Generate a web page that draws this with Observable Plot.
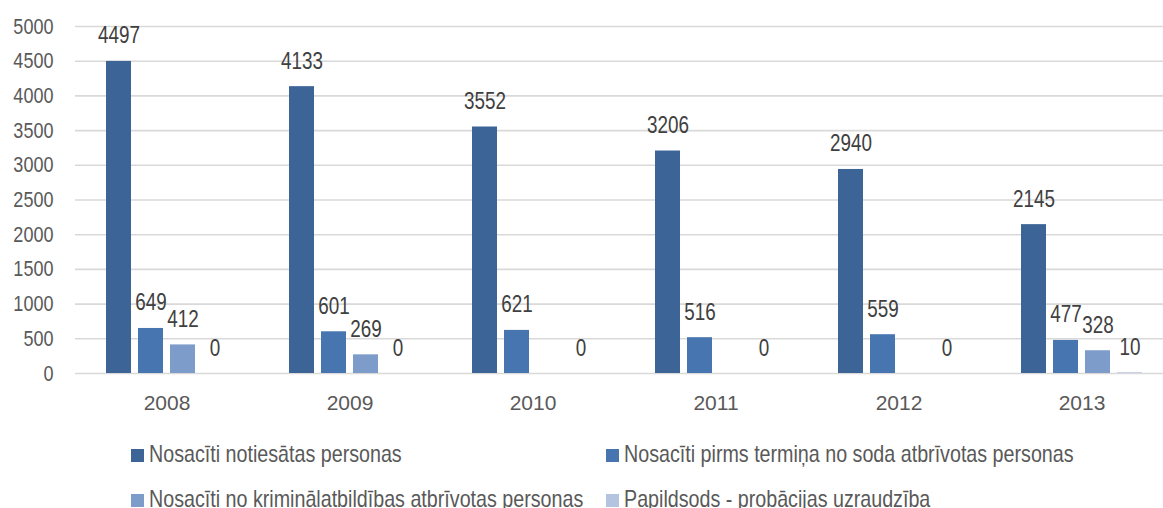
<!DOCTYPE html>
<html>
<head>
<meta charset="utf-8">
<script src="https://cdn.jsdelivr.net/npm/d3@7"></script>
<script src="https://cdn.jsdelivr.net/npm/@observablehq/plot@0.6"></script>
<style>
  html, body { margin: 0; padding: 0; background: #fff; overflow: hidden; }
  #chart svg { display: block; }
  .legend {
    display: grid;
    grid-template-columns: 475px 475px;
    padding-left: 131px;
    margin-top: 6px;
    font-family: "Liberation Sans", Arial, sans-serif;
    font-size: 24px;
    line-height: 45px;
    color: #595959;
    white-space: nowrap;
  }
  .legend .sw {
    display: inline-block;
    width: 13px; height: 13px;
    margin-right: 5px;
  }
  .legend .txt {
    display: inline-block;
    transform: scaleX(0.82);
    transform-origin: left center;
  }
</style>
</head>
<body>
<div id="chart"></div>
<div class="legend" id="legend"></div>
<script>
const years = ["2008", "2009", "2010", "2011", "2012", "2013"];
const seriesNames = [
  "Nosacīti notiesātas personas",
  "Nosacīti pirms termiņa no soda atbrīvotas personas",
  "Nosacīti no kriminālatbildības atbrīvotas personas",
  "Papildsods - probācijas uzraudzība"
];
const notiesatas = [4497, 4133, 3552, 3206, 2940, 2145];
const pirmsTermina = [649, 601, 621, 516, 559, 477];
const kriminalatbildiba = [412, 269, null, null, null, 328];
const probacija = [0, 0, 0, 0, 0, 10];
const yTicks = [0, 500, 1000, 1500, 2000, 2500, 3000, 3500, 4000, 4500, 5000];
const colors = ["#3C6496", "#4775B0", "#7E9CC9", "#B4C4E0"];

const seriesValues = [notiesatas, pirmsTermina, kriminalatbildiba, probacija];
const data = years.flatMap((yr, i) =>
  seriesNames.map((s, j) => ({ year: yr, series: s, value: seriesValues[j][i] }))
).filter(d => d.value != null);

const sans = "'Liberation Sans', Arial, sans-serif";

const chart = Plot.plot({
  width: 1163,
  height: 425,
  marginTop: 26,
  marginBottom: 52,
  marginLeft: 75,
  marginRight: -10,
  style: { background: "#fff", overflow: "visible" },
  fx: { domain: years, paddingInner: 0.317, paddingOuter: 0.1585, label: null, axis: null },
  x: { domain: seriesNames, paddingInner: 0.212, paddingOuter: 0, axis: null },
  y: { domain: [0, 5000], axis: null },
  color: { domain: seriesNames, range: colors },
  marks: [
    Plot.ruleY(yTicks, { stroke: "#d9d9d9", strokeWidth: 1.6, insetLeft: -29, insetRight: -29 }),
    Plot.barY(data, { fx: "year", x: "series", y: "value", fill: "series" }),
    Plot.text(data, {
      fx: "year", x: "series", y: "value",
      text: d => String(d.value),
      lineAnchor: "bottom", dy: -18,
      fontSize: 23, fontFamily: sans, fill: "#404040",
      className: "narrow"
    }),
    Plot.axisY({
      ticks: yTicks, tickSize: 0, tickPadding: 51, label: null,
      tickFormat: d => String(d),
      fontSize: 22, fontFamily: sans, fill: "#595959",
      className: "narrow"
    }),
    Plot.axisFx({
      anchor: "bottom",
      tickSize: 0, tickPadding: 22, label: null,
      fontSize: 21, fontFamily: sans, fill: "#595959"
    })
  ]
});
// Condense the number labels horizontally (narrow typeface look of the original)
chart.querySelectorAll("g.narrow text, .narrow text").forEach(t => {
  const tr = t.getAttribute("transform");
  if (tr && tr.includes("translate")) t.setAttribute("transform", tr + " scale(0.82,1)");
});
document.getElementById("chart").appendChild(chart);

const legend = document.getElementById("legend");
seriesNames.forEach((s, i) => {
  const item = document.createElement("div");
  const sw = document.createElement("span");
  sw.className = "sw";
  sw.style.background = colors[i];
  const tx = document.createElement("span");
  tx.className = "txt";
  tx.textContent = s;
  item.appendChild(sw);
  item.appendChild(tx);
  legend.appendChild(item);
});
</script>
</body>
</html>
